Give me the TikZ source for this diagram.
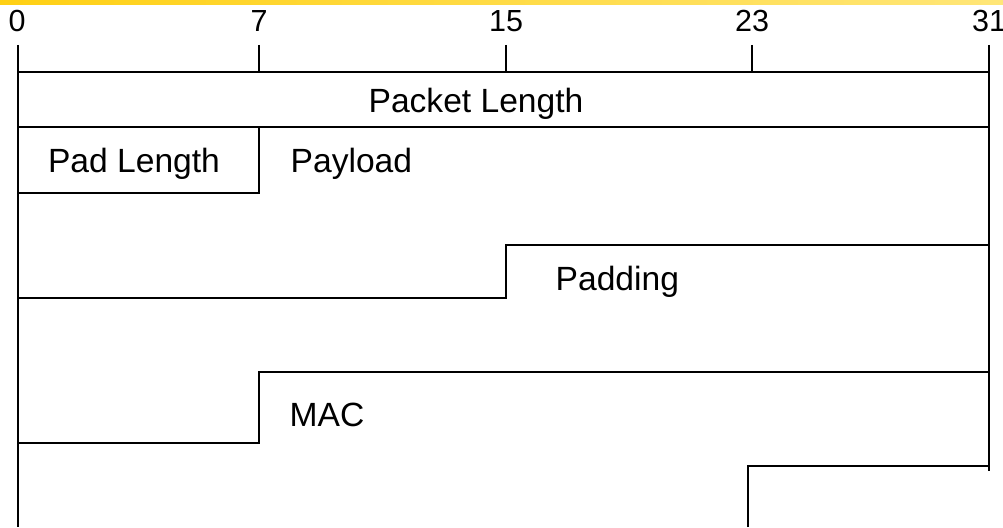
\documentclass[tikz,border=0pt]{standalone}
\usepackage{fontspec}
\setmainfont{Liberation Sans}
\begin{document}
\begin{tikzpicture}[x=1pt,y=-1pt,
  lbl/.style={inner sep=0pt,font=\fontsize{33.6}{40}\selectfont},
  num/.style={inner sep=0pt,anchor=base,font=\fontsize{30.5}{36}\selectfont},
  thick rule/.style={line width=2.4pt},
  rule/.style={line width=1.4pt},
  tick/.style={line width=1.2pt}]
\useasboundingbox (0,0) rectangle (1003,527);
\shade[left color={rgb,255:red,255;green,208;blue,20}, right color={rgb,255:red,255;green,230;blue,120}] (0,0) rectangle (1003,5);
% bit numbers
\node[num] (n0) at (17,32) {0};
\node[num] (n7) at (259,32) {7};
\node[num] (n15) at (506,32) {15};
\node[num] (n23) at (752,32) {23};
\node[num] (n31) at (989,32) {31};
% frame
\draw[thick rule] (18,45) -- (18,527);
\draw[thick rule] (989,45) -- (989,471);
\draw[tick] (259,45) -- (259,72);
\draw[tick] (506,45) -- (506,72);
\draw[tick] (752,45) -- (752,72);
\draw[rule] (18,72) -- (989,72);
\draw[rule] (18,127) -- (989,127);
\draw[rule] (18,193) -- (259,193) -- (259,127);
\draw[rule] (18,298) -- (506,298) -- (506,245) -- (989,245);
\draw[rule] (18,443) -- (259,443) -- (259,372) -- (989,372);
\draw[rule] (748,527) -- (748,466) -- (989,466);
% labels
\node[lbl,anchor=base] (pl) at (476,112) {Packet Length};
\node[lbl,anchor=base] (padlen) at (134,172) {Pad Length};
\node[lbl,anchor=base west] (payload) at (290.5,172) {Payload};
\node[lbl,anchor=base west] (padding) at (555.5,290) {Padding};
\node[lbl,anchor=base west] (mac) at (289.5,426) {MAC};
\end{tikzpicture}
\end{document}
